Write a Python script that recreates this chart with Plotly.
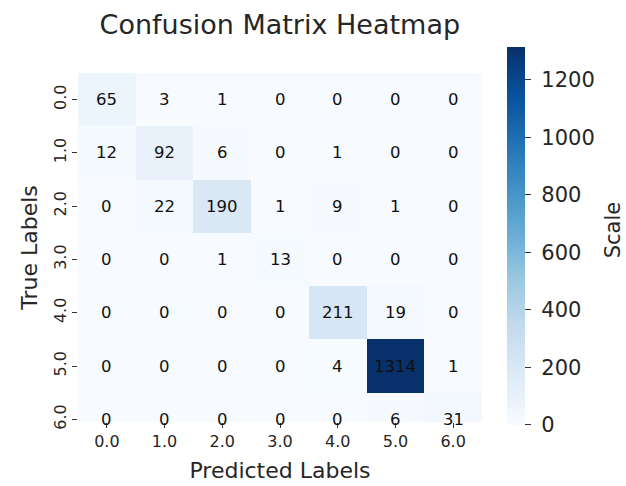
import plotly.graph_objects as go

labels = ["0.0", "1.0", "2.0", "3.0", "4.0", "5.0", "6.0"]
matrix = [
    [65, 3, 1, 0, 0, 0, 0],
    [12, 92, 6, 0, 1, 0, 0],
    [0, 22, 190, 1, 9, 1, 0],
    [0, 0, 1, 13, 0, 0, 0],
    [0, 0, 0, 0, 211, 19, 0],
    [0, 0, 0, 0, 4, 1314, 1],
    [0, 0, 0, 0, 0, 6, 31],
]
cbar_ticks = [0, 200, 400, 600, 800, 1000, 1200]

F = "DejaVu Sans"
TXT = "#262626"
idx = list(range(len(labels)))

fig = go.Figure(go.Heatmap(
    z=matrix, x=idx, y=idx,
    colorscale="Blues", zmin=0, zmax=1314,
    hoverinfo="z",
    colorbar=dict(
        thickness=18, lenmode="pixels", len=378,
        x=1.062, xanchor="left", y=0.533, yanchor="middle",
        xpad=0, ypad=0, outlinewidth=0,
        ticks="outside", ticklen=6, tickcolor="#333",
        tickvals=cbar_ticks, ticktext=["\u00a0" + str(t) for t in cbar_ticks],
        tickfont=dict(family=F, size=21, color=TXT),
    ),
))

for i, row in enumerate(matrix):
    for j, v in enumerate(row):
        fig.add_annotation(x=j, y=i, xref="x", yref="y", text=str(v), showarrow=False,
                           font=dict(family=F, size=16.5, color="#111111"))

fig.add_annotation(x=1.325, y=0.55, xref="paper", yref="paper", text="Scale", showarrow=False,
                   textangle=-90, xanchor="center", yanchor="middle",
                   font=dict(family=F, size=21, color=TXT))

fig.update_layout(
    width=626, height=486,
    margin=dict(l=78, r=144, t=73, b=64),
    paper_bgcolor="white", plot_bgcolor="white",
    title=dict(text="Confusion Matrix Heatmap", x=0.447, xanchor="center", y=0.949, yanchor="middle",
               font=dict(family=F, size=27, color=TXT)),
    xaxis=dict(
        tickvals=idx, ticktext=labels, automargin=False,
        ticks="outside", ticklen=5, tickcolor="#333",
        tickfont=dict(family=F, size=16, color=TXT),
        showgrid=False, zeroline=False, showline=False,
        range=[-0.5, 6.5],
        title=dict(text="Predicted Labels", font=dict(family=F, size=22, color=TXT), standoff=12),
    ),
    yaxis=dict(
        tickvals=idx, ticktext=labels, automargin=False,
        ticks="outside", ticklen=5, tickcolor="#333", tickangle=-90,
        tickfont=dict(family=F, size=16, color=TXT),
        showgrid=False, zeroline=False, showline=False,
        range=[6.05, -0.5],
        title=dict(text="True Labels", font=dict(family=F, size=22, color=TXT), standoff=6),
    ),
)

fig.write_html("out.html", config={"displayModeBar": False},
               post_script="document.body.style.margin='0';")
